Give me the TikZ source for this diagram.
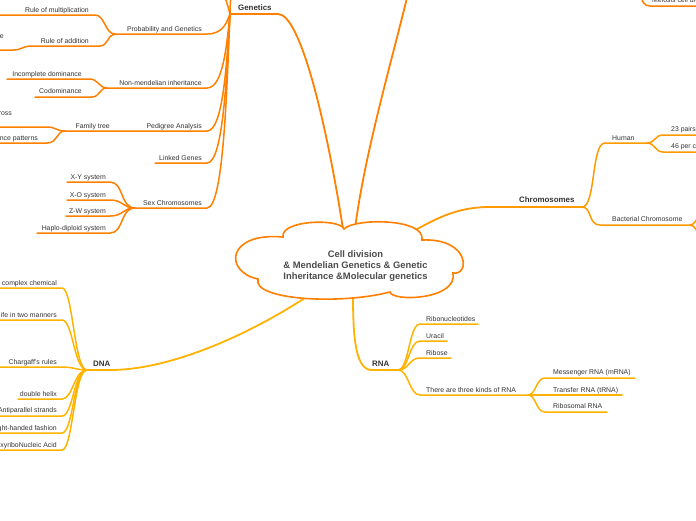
\documentclass[tikz,border=0pt]{standalone}
\usepackage{fontspec}
\setmainfont{Liberation Sans}
\definecolor{gen}{HTML}{FF7F00}
\definecolor{chr}{HTML}{FF9A00}
\definecolor{dna}{HTML}{FFB300}
\definecolor{txt}{HTML}{333333}
\tikzset{
  lbl/.style={font=\fontsize{6.9}{8}\selectfont, text=txt, inner sep=0pt},
  topic/.style={font=\bfseries\fontsize{7.9}{9}\selectfont, text=txt, inner sep=0pt},
  gb/.style={draw=gen, line width=1.5pt, line cap=round},
  cb/.style={draw=chr, line width=1.5pt, line cap=round},
  db/.style={draw=dna, line width=1.5pt, line cap=round},
  mainb/.style={line width=1.8pt},
}
\begin{document}
\begin{tikzpicture}[x=1pt,y=-1pt]
\useasboundingbox (0,0) rectangle (696,520);
\clip (0,0) rectangle (696,520);

% ---------- junction coordinates ----------
\coordinate (JG) at (230,14);
\coordinate (JP) at (115,34);
\coordinate (JN) at (107,88);
\coordinate (JF) at (65,131);
\coordinate (JS) at (135,208);
\coordinate (JD) at (87,370);
\coordinate (JR) at (398,370);
\coordinate (JT) at (528,395);
\coordinate (JC) at (582,207);
\coordinate (JH) at (647,143);
\coordinate (JB) at (690,225);
\coordinate (cgen) at (343,229);
\coordinate (cup) at (355,229);
\coordinate (cchr) at (412,232);
\coordinate (cdna) at (314,292);
\coordinate (crna) at (353,296);

% ---------- main branches ----------
\draw[gb,mainb] (JG) -- (278,14) .. controls (300,14) and (326,120) .. (cgen);
\draw[gb,mainb] (cup) .. controls (365,150) and (395,50) .. (410,-15);
\draw[cb,mainb] (cchr) .. controls (440,216) and (460,207) .. (490,207) -- (JC);
\draw[db,mainb] (cdna) .. controls (250,335) and (170,370) .. (110,370) -- (JD);
\draw[db,mainb] (crna) .. controls (353,340) and (356,370) .. (372,370) -- (JR);

% ---------- Genetics ----------
\node[topic,anchor=base west] (genetics) at (238,10.5) {Genetics};
\draw[gb] (JG) .. controls (228,5) and (224,-5) .. (219,-20);
\draw[gb] (JG) .. controls (230,5) and (231,-5) .. (232,-20);

\node[lbl,anchor=base east] (prob) at (202,31) {Probability and Genetics};
\draw[gb] (JG) .. controls (227,21) and (224,34) .. (207,34) -- (JP);
\node[lbl,anchor=base east] (rmul) at (89,12) {Rule of multiplication};
\draw[gb] (JP) .. controls (105,34) and (105,15) .. (95,15) -- (-5,15);
\node[lbl,anchor=base east] (radd) at (89,43) {Rule of addition};
\draw[gb] (JP) .. controls (108,34) and (108,46) .. (100,46) -- (32,46) .. controls (22,46) and (22,50) .. (13,50) -- (-5,50);
\node[lbl,anchor=base east] (re) at (4,38.5) {re};

\node[lbl,anchor=base east] (nonm) at (202,85) {Non-mendelian inheritance};
\draw[gb] (JG) .. controls (227,40) and (224,88) .. (207,88) -- (JN);
\node[lbl,anchor=base east] (incd) at (82,76) {Incomplete dominance};
\draw[gb] (JN) .. controls (99,88) and (98,79) .. (90,79) -- (7,79);
\node[lbl,anchor=base east] (codo) at (82,93.5) {Codominance};
\draw[gb] (JN) .. controls (99,88) and (100,97) .. (92,97) -- (35,97);

\node[lbl,anchor=base east] (pedi) at (202,128) {Pedigree Analysis};
\draw[gb] (JG) .. controls (227,55) and (224,131) .. (207,131) -- (JF);
\node[lbl,anchor=base east] (ftree) at (110,128) {Family tree};
\node[lbl,anchor=base east] (ross) at (12,115) {ross};
\draw[gb] (JF) .. controls (56,131) and (56,127) .. (47,127) -- (-5,127);
\node[lbl,anchor=base east] (inhp) at (38,140) {ince patterns};
\draw[gb] (JF) .. controls (56,131) and (58,143) .. (47,143) -- (-5,143);

\node[lbl,anchor=base east] (link) at (202,160) {Linked Genes};
\draw[gb] (JG) .. controls (227,66) and (224,163) .. (207,163) -- (155,163);

\node[lbl,anchor=base east] (sexc) at (202,205) {Sex Chromosomes};
\draw[gb] (JG) .. controls (227,82) and (224,208) .. (207,208) -- (JS);
\node[lbl,anchor=base east] (xy) at (106,179) {X-Y system};
\draw[gb] (JS) .. controls (120,208) and (124,182) .. (110,182) -- (67,182);
\node[lbl,anchor=base east] (xo) at (106,197) {X-O system};
\draw[gb] (JS) .. controls (122,208) and (124,200) .. (110,200) -- (67,200);
\node[lbl,anchor=base east] (zw) at (106,213) {Z-W system};
\draw[gb] (JS) .. controls (122,208) and (124,216) .. (110,216) -- (66,216);
\node[lbl,anchor=base east] (hap) at (106,230) {Haplo-diploid system};
\draw[gb] (JS) .. controls (120,208) and (124,233) .. (110,233) -- (37,233);

% ---------- top right ----------
\node[lbl,anchor=base west] (meio) at (652,2) {Meiosis cell division};
\draw[gb] (640,-8) .. controls (642,2) and (644,6) .. (650,6) -- (700,6);

% ---------- Chromosomes ----------
\node[topic,anchor=base west] (chrom) at (519,202) {Chromosomes};
\node[lbl,anchor=base west] (human) at (612,140) {Human};
\draw[cb] (JC) .. controls (596,207) and (591,143) .. (605,143) -- (JH);
\node[lbl,anchor=base west] (p23) at (671,131.5) {23 pairs};
\draw[cb] (JH) .. controls (655,143) and (655,135) .. (663,135) -- (700,135);
\node[lbl,anchor=base west] (p46) at (671,148.5) {46 per c};
\draw[cb] (JH) .. controls (655,143) and (655,152) .. (663,152) -- (700,152);
\node[lbl,anchor=base west] (bact) at (612,221.5) {Bacterial Chromosome};
\draw[cb] (JC) .. controls (592,207) and (588,225) .. (600,225) -- (JB);
\draw[cb] (JB) .. controls (695,225) and (697,218) .. (701,212);
\draw[cb] (JB) .. controls (695,225) and (697,232) .. (701,238);

% ---------- DNA ----------
\node[topic,anchor=base west] (dna) at (93,366) {DNA};
\node[lbl,anchor=base east] (d1) at (57,285) {complex chemical};
\draw[db] (JD) .. controls (74,370) and (73,288) .. (62,288) -- (-5,288);
\node[lbl,anchor=base east] (d2) at (57,317) {ife in two manners};
\draw[db] (JD) .. controls (74,370) and (73,320) .. (62,320) -- (-5,320);
\node[lbl,anchor=base east] (d3) at (57,364) {Chargaff's rules};
\draw[db] (JD) .. controls (76,370) and (74,367) .. (62,367) -- (-5,367);
\node[lbl,anchor=base east] (d4) at (57,396) {double helix};
\draw[db] (JD) .. controls (74,370) and (73,399) .. (62,399) -- (18,399);
\node[lbl,anchor=base east] (d5) at (57,412.5) {Antiparallel strands};
\draw[db] (JD) .. controls (74,370) and (73,416) .. (62,416) -- (-5,416);
\node[lbl,anchor=base east] (d6) at (57,430) {ght-handed fashion};
\draw[db] (JD) .. controls (74,370) and (73,433) .. (62,433) -- (-5,433);
\node[lbl,anchor=base east] (d7) at (57,447) {xyriboNucleic Acid};
\draw[db] (JD) .. controls (74,370) and (73,450) .. (62,450) -- (-5,450);

% ---------- RNA ----------
\node[topic,anchor=base west] (rna) at (372,366) {RNA};
\node[lbl,anchor=base west] (r1) at (426,321) {Ribonucleotides};
\draw[db] (JR) .. controls (409,370) and (409,324) .. (420,324) -- (478,324);
\node[lbl,anchor=base west] (r2) at (426,338) {Uracil};
\draw[db] (JR) .. controls (409,370) and (409,341) .. (420,341) -- (447,341);
\node[lbl,anchor=base west] (r3) at (426,355) {Ribose};
\draw[db] (JR) .. controls (409,370) and (409,358) .. (420,358) -- (451,358);
\node[lbl,anchor=base west] (r4) at (426,392) {There are three kinds of RNA};
\draw[db] (JR) .. controls (409,370) and (409,395) .. (420,395) -- (JT);
\node[lbl,anchor=base west] (m1) at (553,374.5) {Messenger RNA (mRNA)};
\draw[db] (JT) .. controls (536,395) and (536,378) .. (545,378) -- (635,378);
\node[lbl,anchor=base west] (m2) at (553,392) {Transfer RNA (tRNA)};
\draw[db] (JT) -- (622,395);
\node[lbl,anchor=base west] (m3) at (553,408.5) {Ribosomal RNA};
\draw[db] (JT) .. controls (536,395) and (536,412) .. (545,412) -- (607,412);

% ---------- central cloud ----------
\path[draw=gen, fill=white, line width=1.6pt]
  (258,279) .. controls (224,272) and (226,232) .. (283,237)
  .. controls (280,220) and (340,218) .. (344,229)
  .. controls (354,218) and (426,218) .. (422,240)
  .. controls (470,238) and (470,276) .. (453,273)
  .. controls (458,300) and (392,302) .. (390,292)
  .. controls (340,305) and (252,300) .. (258,279) -- cycle;
\node[font=\bfseries\fontsize{9.4}{11}\selectfont, text=black!70, align=center, inner sep=0pt] (center) at (355.5,266) {Cell division\\\& Mendelian Genetics \& Genetic\\Inheritance \&Molecular genetics};
\end{tikzpicture}
\end{document}
